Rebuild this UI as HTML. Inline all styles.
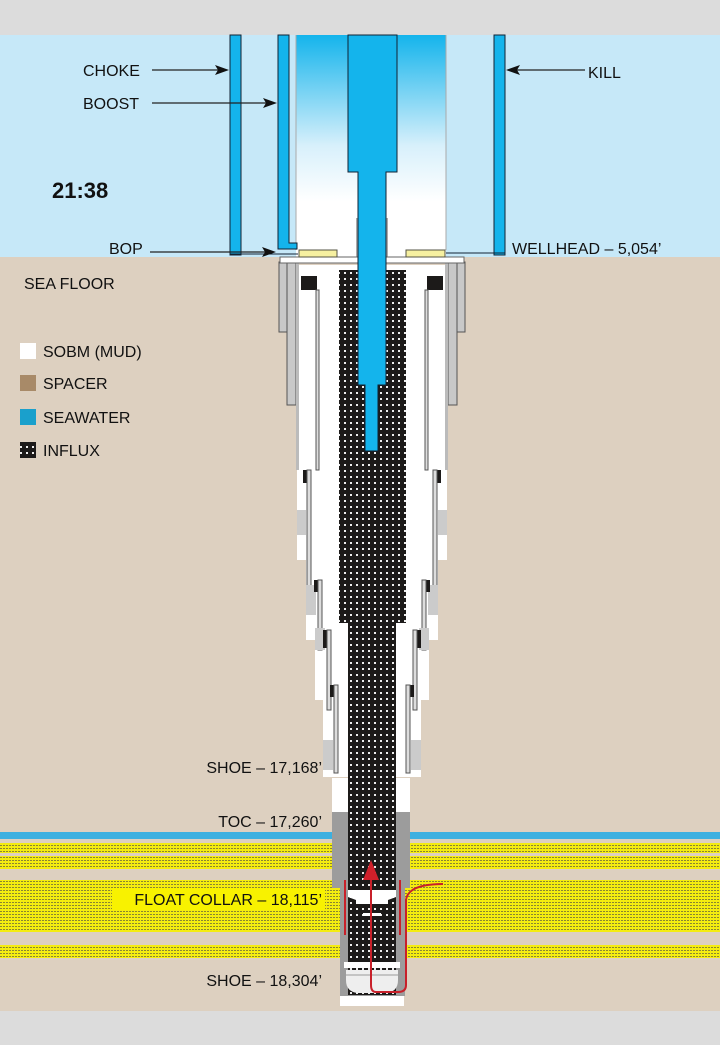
<!DOCTYPE html>
<html><head><meta charset="utf-8"><style>
html,body{margin:0;padding:0;background:#dcdcdc}
svg{display:block}
text{font-family:"Liberation Sans",sans-serif;fill:#111}
</style></head><body>
<svg width="720" height="1045" viewBox="0 0 720 1045" xmlns="http://www.w3.org/2000/svg">
<defs>
<pattern id="inf" width="6" height="6" patternUnits="userSpaceOnUse">
<rect width="6" height="6" fill="#1c1a19"/><rect x="2" y="2" width="2" height="2" fill="#eeeeee"/></pattern>
<pattern id="yel" width="3" height="3" patternUnits="userSpaceOnUse">
<rect width="3" height="3" fill="#f4ec10"/><rect x="0" y="2" width="2" height="1" fill="#8a8530"/></pattern>
<linearGradient id="rg" x1="0" y1="0" x2="0" y2="1">
<stop offset="0" stop-color="#14b4ec"/><stop offset="0.5" stop-color="#d8f0fb"/><stop offset="0.75" stop-color="#ffffff"/></linearGradient>
<g id="half">
<polygon points="296,265 296,470 297,470 297,560 306,560 306,640 315,640 315,700 323,700 323,777 372,777 372,265" fill="#fff"/>
<rect x="279" y="262" width="8" height="70" fill="#c8c8c8" stroke="#555" stroke-width="1"/>
<rect x="287" y="262" width="9" height="143" fill="#c8c8c8" stroke="#555" stroke-width="1"/>
<rect x="296" y="262" width="3" height="208" fill="#bbb"/>
<rect x="301" y="276" width="16" height="14" fill="#1c1a19"/>
<rect x="316" y="290" width="3" height="180" fill="#ddd" stroke="#555" stroke-width="1"/>
<rect x="297" y="510" width="9" height="25" fill="#cbcbcb"/>
<rect x="303" y="470" width="5" height="13" fill="#1c1a19"/>
<rect x="307" y="470" width="4" height="125" fill="#ddd" stroke="#555" stroke-width="1"/>
<rect x="306" y="585" width="10" height="30" fill="#cbcbcb"/>
<rect x="314" y="580" width="5" height="12" fill="#1c1a19"/>
<rect x="318" y="580" width="4" height="70" fill="#ddd" stroke="#555" stroke-width="1"/>
<rect x="315" y="628" width="10" height="22" fill="#cbcbcb"/>
<rect x="323" y="630" width="5" height="18" fill="#1c1a19"/>
<rect x="327" y="630" width="4" height="80" fill="#ddd" stroke="#555" stroke-width="1"/>
<rect x="323" y="740" width="10" height="30" fill="#cbcbcb"/>
<rect x="330" y="685" width="4" height="12" fill="#1c1a19"/>
<rect x="334" y="685" width="4" height="88" fill="#ddd" stroke="#555" stroke-width="1"/>
<rect x="280" y="257" width="92" height="6" fill="#fff" stroke="#666" stroke-width="1"/>
</g>
</defs>
<rect width="720" height="1045" fill="#dcdcdc"/>
<rect x="0" y="35" width="720" height="222" fill="#c6e8f8"/>
<rect x="0" y="257" width="720" height="754" fill="#ddd0c0"/>
<rect x="0" y="832" width="720" height="7" fill="#3cb0e0"/>
<rect x="0" y="843" width="720" height="10" fill="url(#yel)"/>
<rect x="0" y="856" width="720" height="13" fill="url(#yel)"/>
<rect x="0" y="880" width="720" height="52" fill="url(#yel)"/>
<rect x="0" y="945" width="720" height="13" fill="url(#yel)"/>
<rect x="296" y="35" width="150" height="222" fill="url(#rg)"/>
<line x1="296" y1="35" x2="296" y2="250" stroke="#aaa"/>
<line x1="446" y1="35" x2="446" y2="250" stroke="#aaa"/>
<rect x="356" y="218" width="2" height="40" fill="#aaa"/>
<rect x="386" y="218" width="2" height="40" fill="#aaa"/>
<rect x="230" y="35" width="11" height="220" fill="#14b4ec" stroke="#123" stroke-width="1"/>
<path d="M278,35 H289 V243 H297 V249 H278 Z" fill="#14b4ec" stroke="#123" stroke-width="1"/>
<rect x="494" y="35" width="11" height="220" fill="#14b4ec" stroke="#123" stroke-width="1"/>
<line x1="230" y1="254" x2="298" y2="254" stroke="#123"/>
<line x1="446" y1="253" x2="505" y2="253" stroke="#123"/>
<use href="#half"/>
<use href="#half" transform="translate(744,0) scale(-1,1)"/>
<rect x="299" y="250" width="38" height="7" fill="#f6f0a0" stroke="#554" stroke-width="1"/>
<rect x="406" y="250" width="39" height="7" fill="#f6f0a0" stroke="#554" stroke-width="1"/>
<rect x="332" y="778" width="78" height="34" fill="#fff"/>
<rect x="332" y="812" width="78" height="76" fill="#9c9c9c"/>
<rect x="340" y="886" width="65" height="110" fill="#9c9c9c"/>
<rect x="340" y="996" width="64" height="10" fill="#fff"/>
<rect x="339" y="270" width="67" height="353" fill="url(#inf)"/>
<rect x="348" y="623" width="48" height="372" fill="url(#inf)"/>
<path d="M348,35 H397 V172 H386 V385 H378 V451 H365 V385 H358 V172 H348 Z" fill="#14b4ec" stroke="#123" stroke-width="1"/>
<path d="M348,890 H396 V897 L388,900 V904 H356 V900 L348,897 Z" fill="#fff"/>
<rect x="363" y="913" width="18" height="3" fill="#fff"/>
<rect x="344" y="962" width="56" height="6" fill="#fff"/>
<path d="M346,970 H398 V980 Q398,992 386,993 H358 Q346,992 346,980 Z" fill="#eee"/>
<line x1="346" y1="975" x2="398" y2="975" stroke="#999"/>
<line x1="345" y1="880" x2="345" y2="935" stroke="#c8202a" stroke-width="2"/>
<line x1="400" y1="880" x2="400" y2="935" stroke="#c8202a" stroke-width="2"/>
<path d="M443,884 Q408,884 406,900 V985 Q406,992 398,992 H376 Q371,992 371,985 V875" fill="none" stroke="#c8202a" stroke-width="2"/>
<polygon points="371,860 363,880 379,880" fill="#d0202a"/>
<g stroke="#222" stroke-width="1.2">
<line x1="152" y1="70" x2="222" y2="70"/><line x1="152" y1="103" x2="270" y2="103"/>
<line x1="585" y1="70" x2="513" y2="70"/><line x1="150" y1="252" x2="268" y2="252"/>
</g>
<g fill="#111">
<polygon points="229,70 215,65 218,70 215,75"/><polygon points="277,103 263,98 266,103 263,108"/>
<polygon points="506,70 520,65 517,70 520,75"/><polygon points="276,252 262,247 265,252 262,257"/>
</g>
<g font-size="16">
<text x="83" y="76">CHOKE</text>
<text x="83" y="109">BOOST</text>
<text x="588" y="78">KILL</text>
<text x="109" y="254">BOP</text>
<text x="512" y="254">WELLHEAD – 5,054’</text>
<text x="24" y="289">SEA FLOOR</text>
<text x="43" y="357">SOBM (MUD)</text>
<text x="43" y="389">SPACER</text>
<text x="43" y="423">SEAWATER</text>
<text x="43" y="456">INFLUX</text>
<text x="322" y="773" text-anchor="end">SHOE – 17,168’</text>
<text x="322" y="827" text-anchor="end">TOC – 17,260’</text>
<rect x="112" y="888" width="213" height="22" fill="#f8f200"/>
<text x="322" y="905" text-anchor="end">FLOAT COLLAR – 18,115’</text>
<text x="322" y="986" text-anchor="end">SHOE – 18,304’</text>
</g>
<text x="52" y="198" font-size="22" font-weight="bold">21:38</text>
<rect x="20" y="343" width="16" height="16" fill="#fff"/>
<rect x="20" y="375" width="16" height="16" fill="#a88a68"/>
<rect x="20" y="409" width="16" height="16" fill="#1aa0cc"/>
<rect x="20" y="442" width="16" height="16" fill="url(#inf)"/>
</svg>
</body></html>
